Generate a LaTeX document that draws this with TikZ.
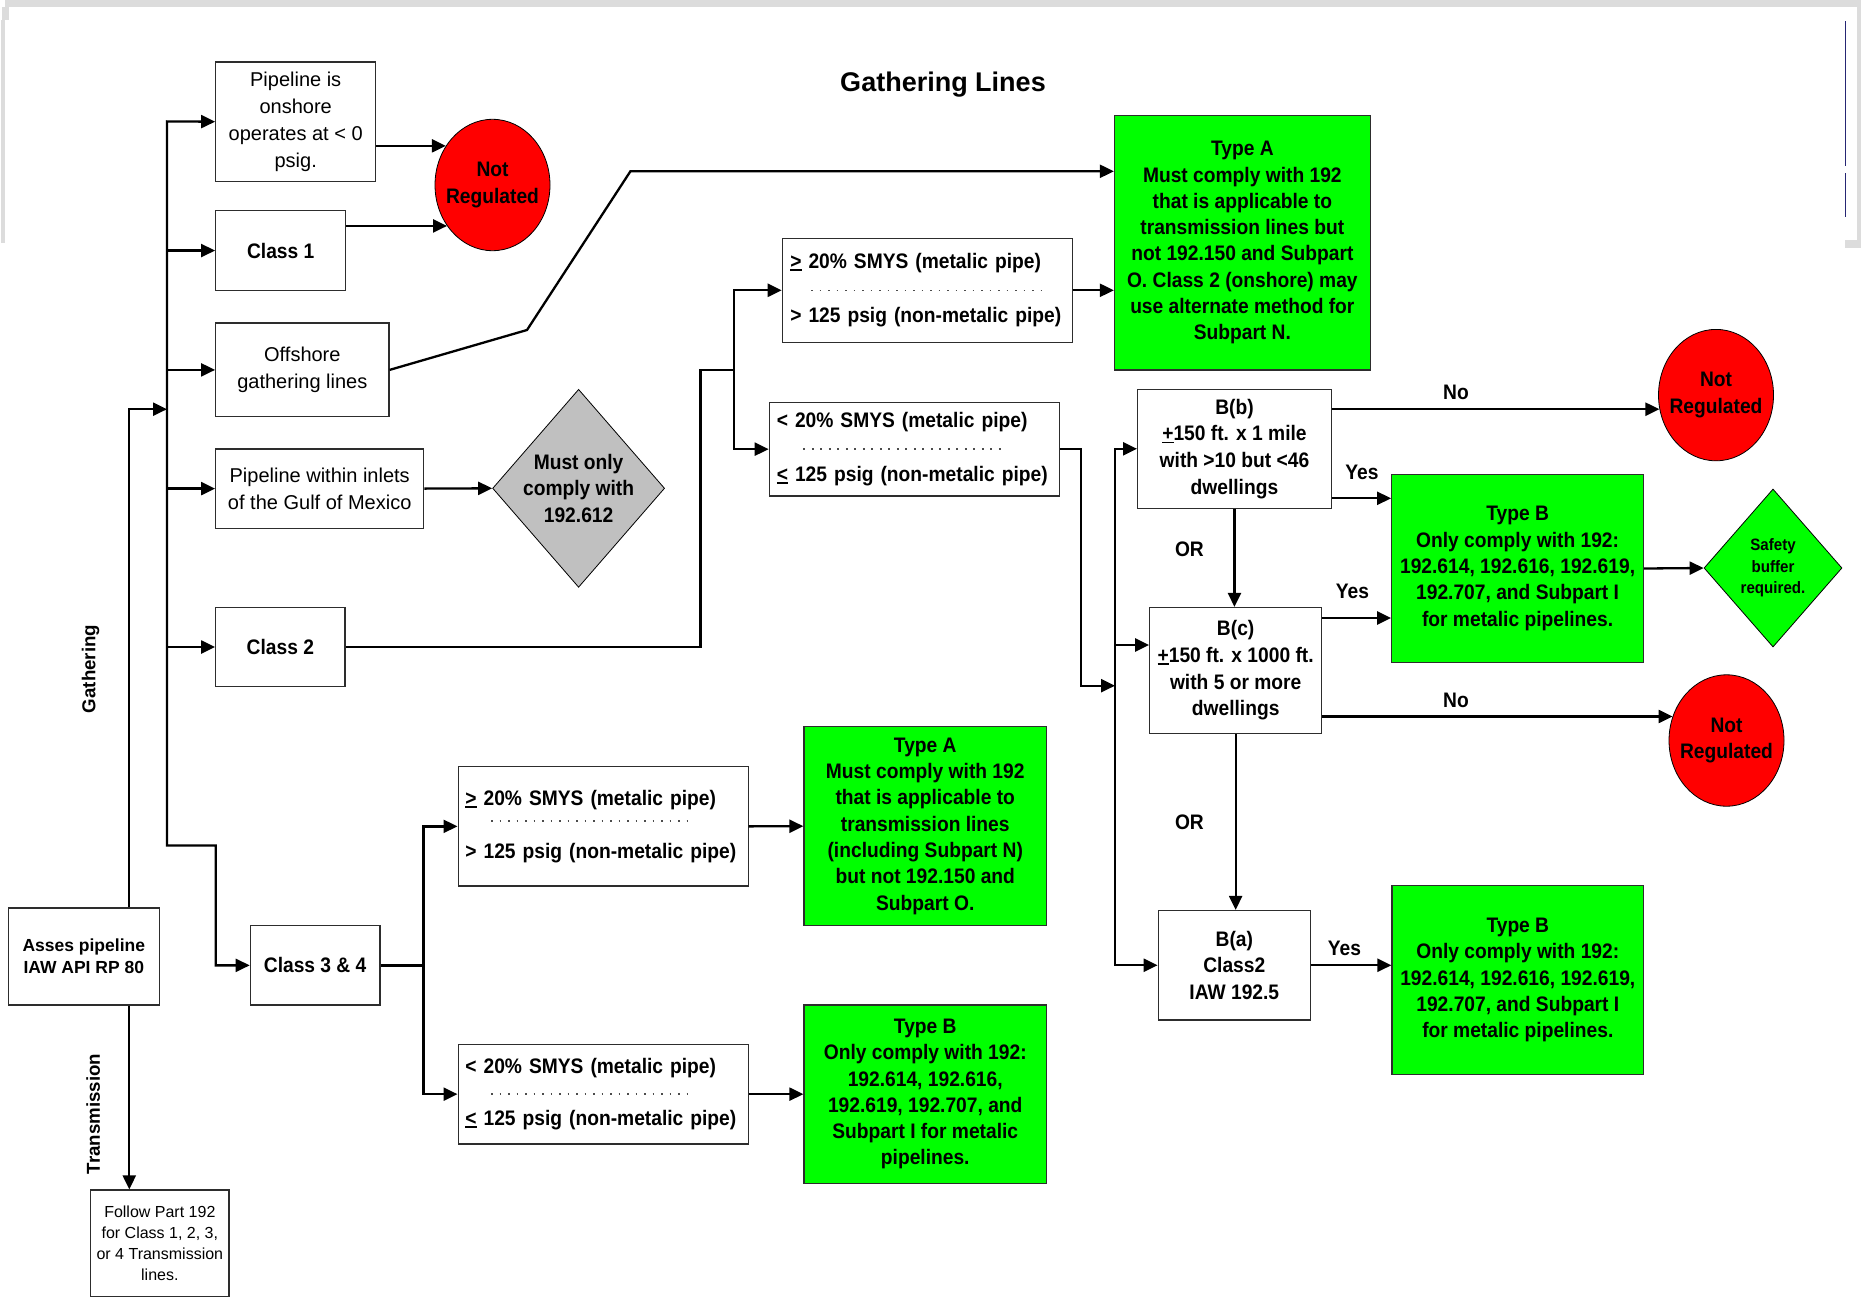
\documentclass[tikz,border=0pt]{standalone}
\usepackage{fontspec}
\setmainfont{Liberation Sans}
\newfontfamily\condensed{Liberation Sans}[FakeStretch=0.915]
\usetikzlibrary{shapes.geometric,arrows.meta}

\definecolor{grn}{RGB}{0,255,0}
\definecolor{rd}{RGB}{255,0,0}
\definecolor{dgray}{RGB}{192,192,192}
\definecolor{edge}{RGB}{45,45,45}
\definecolor{framegray}{RGB}{220,220,220}
\definecolor{navyline}{RGB}{38,38,115}

\newcommand\setfs[2]{\fontsize{#1}{#2}\selectfont}
% underlined sign (used for >=, <= and +/-)
\newsavebox\ulbox
\newcommand\ulmark[1]{\leavevmode\sbox\ulbox{#1}\rlap{\rule[-2.6pt]{\wd\ulbox}{1.8pt}}\usebox\ulbox}

\begin{document}
\begin{tikzpicture}[x=1pt,y=-1pt,
  box/.style={draw=edge, line width=1.2pt, fill=white, inner sep=0pt, align=center},
  plain/.style={font=\setfs{20}{26.8}},
  heavy/.style={font=\condensed\bfseries\setfs{21}{26.3}},
  greenbox/.style={box, fill=grn, heavy},
  smys/.style={box, heavy, align=left, text width=274, inner xsep=8, minimum width=290},
  notreg/.style={ellipse, draw=black, line width=0.8pt, fill=rd, inner sep=0pt,
     minimum width=115, minimum height=131.4,
     label={[heavy, align=center]center:Not\\Regulated}},
  conn/.style={line width=2.3pt, black},
  arr/.style={conn, -{Triangle[length=14pt,width=13pt]}},
  biarr/.style={conn, {Triangle[length=14pt,width=13pt]}-{Triangle[length=14pt,width=13pt]}},
  dots/.style={draw=black!70, line width=1.4pt, dash pattern=on 1.6pt off 6.9pt},
  tag/.style={heavy}
]
\fill[white] (0,0) rectangle (1865,1304);
\useasboundingbox (0,0) rectangle (1865,1304);

% page frame remains
\fill[framegray] (5,0) rectangle (1861,7);
\fill[framegray] (1.7,7) rectangle (9,20);
\fill[framegray] (1,20) rectangle (5,243);
\fill[framegray] (1857,7) rectangle (1861,243);
\fill[framegray] (1845,240) rectangle (1861,248);
\draw[navyline, line width=1pt] (1845.3,21) -- (1845.3,166);
\draw[navyline, line width=1pt] (1845.3,173) -- (1845.3,217);

% title
\node[font=\bfseries\setfs{27}{32}] (title) at (943,85) {Gathering Lines};

% left column
\node[box, font=\bfseries\setfs{17.5}{22.3}, minimum width=151, minimum height=97] (asses) at (83.8,956.5) {Asses pipeline\\IAW API RP 80};
\node[box, font=\setfs{16}{21}, minimum width=138.3, minimum height=106.7] (follow) at (159.85,1243.35) {Follow Part 192\\for Class 1, 2, 3,\\or 4 Transmission\\lines.};
\node[rotate=90, font=\bfseries\setfs{18.7}{22}] (lgath) at (90.5,669) {Gathering};
\node[rotate=90, font=\bfseries\setfs{18.7}{22}] (ltrans) at (93.3,1114) {Transmission};

\node[box, plain, minimum width=160, minimum height=119.4] (pipe) at (295.7,121.7) {Pipeline is\\onshore\\operates at < 0\\psig.};
\node[box, heavy, minimum width=130, minimum height=79.7] (class1) at (280.7,250.55) {Class 1};
\node[box, plain, font=\setfs{20}{26.2}, minimum width=173.3, minimum height=93.8] (offshore) at (302.35,369.9) {Offshore\\gathering lines};
\node[box, plain, font=\setfs{20}{27}, minimum width=208, minimum height=79.2] (gulf) at (319.7,488.6) {Pipeline within inlets\\of the Gulf of Mexico};
\node[box, heavy, minimum width=129.3, minimum height=78.5] (class2) at (280.35,647) {Class 2};
\node[box, heavy, minimum width=129.7, minimum height=79.3] (class34) at (315.15,965.35) {Class 3 \& 4};

\node[notreg] (nr1) at (492.5,185) {};
\node[diamond, draw=black, line width=0.8pt, fill=dgray, inner sep=0pt, minimum width=172, minimum height=198,
  label={[heavy, font=\condensed\bfseries\setfs{21}{26.8}, align=center]center:Must only\\comply with\\192.612}] (must) at (578.6,488.3) {};

% class 2 branch
\node[smys, minimum height=104] (smysA) at (927.3,290.3) {\ulmark{>} 20\% SMYS (metalic pipe)\\[27.7pt]> 125 psig (non-metalic pipe)};
\node[smys, inner xsep=7.5, text width=275, minimum height=93.7] (smysB) at (914.3,449.15) {< 20\% SMYS (metalic pipe)\\[27pt]\ulmark{<} 125 psig (non-metalic pipe)};
\draw[dots] ([xshift=29.4]smysA.west) -- ([xshift=264.4]smysA.west);
\draw[dots] ([xshift=34.7]smysB.west) -- ([xshift=237.4]smysB.west);

\node[greenbox, minimum width=255.7, minimum height=254.6] (typeA1) at (1242.35,242.7) {Type A\\Must comply with 192\\that is applicable to\\transmission lines but\\not 192.150 and Subpart\\O. Class 2 (onshore) may\\use alternate method for\\Subpart N.};

\node[box, heavy, font=\condensed\bfseries\setfs{21}{26.7}, minimum width=193.7, minimum height=119] (bb) at (1234.45,448.8) {B(b)\\\ulmark{+}150 ft. x 1 mile\\with >10 but <46\\dwellings};
\node[box, heavy, font=\condensed\bfseries\setfs{21}{26.7}, minimum width=171.9, minimum height=126.1] (bc) at (1235.65,670.55) {B(c)\\\ulmark{+}150 ft. x 1000 ft.\\with 5 or more\\dwellings};
\node[box, heavy, minimum width=152.2, minimum height=109.5] (ba) at (1234.3,965.25) {B(a)\\Class2\\IAW 192.5};

\node[greenbox, minimum width=251.8, minimum height=188.4] (typeB1) at (1517.6,568.5) {Type B\\Only comply with 192:\\192.614, 192.616, 192.619,\\192.707, and Subpart I\\for metalic pipelines.};
\node[greenbox, minimum width=251.6, minimum height=188.6] (typeB2) at (1517.8,980) {Type B\\Only comply with 192:\\192.614, 192.616, 192.619,\\192.707, and Subpart I\\for metalic pipelines.};

\node[notreg] (nr2) at (1716,395.1) {};
\node[notreg] (nr3) at (1726.5,740.5) {};
\node[diamond, draw=black, line width=0.8pt, fill=grn, inner sep=0pt, minimum width=138, minimum height=158,
  label={[font=\condensed\bfseries\setfs{16.5}{21.3}, align=center]center:Safety\\buffer\\required.}] (safety) at (1773,568) {};

% class 3 & 4 branch
\node[smys, inner xsep=7, text width=275.4, minimum height=119.3] (smysC) at (603.1,826.35) {\ulmark{>} 20\% SMYS (metalic pipe)\\[26.4pt]> 125 psig (non-metalic pipe)};
\node[smys, inner xsep=7, text width=275.4, minimum height=99.7] (smysD) at (603.1,1094.15) {< 20\% SMYS (metalic pipe)\\[25.4pt]\ulmark{<} 125 psig (non-metalic pipe)};
\draw[dots] ([xshift=33.6,yshift=5.35]smysC.west) -- ([xshift=235.6,yshift=5.35]smysC.west);
\draw[dots] ([xshift=33.6]smysD.west) -- ([xshift=235.6]smysD.west);

\node[greenbox, minimum width=242.5, minimum height=199] (typeA2) at (925.25,826.2) {Type A\\Must comply with 192\\that is applicable to\\transmission lines\\(including Subpart N)\\but not 192.150 and\\Subpart O.};
\node[greenbox, minimum width=242.5, minimum height=178.3] (typeB3) at (925.25,1094.15) {Type B\\Only comply with 192:\\192.614, 192.616,\\192.619, 192.707, and\\Subpart I for metalic\\pipelines.};

% branch labels
\node[tag] (no1) at (1456,392.5) {No};
\node[tag] (yes1) at (1362,472) {Yes};
\node[tag] (or1) at (1189.4,549.5) {OR};
\node[tag] (yes2) at (1352.4,591.1) {Yes};
\node[tag] (no2) at (1456,700.6) {No};
\node[tag] (or2) at (1189.4,821.9) {OR};
\node[tag] (yes3) at (1344.5,948.5) {Yes};

% connector junction points
\coordinate (gx) at (129.3,409.2);
\coordinate (tTop) at (167,121.4);
\coordinate (tBot) at (167,845.5);
\coordinate (jog) at (215.7,845.5);
\coordinate (offB) at (527,330);
\coordinate (offA) at (630.4,171.3);
\coordinate (c2a) at (700.6,647);
\coordinate (c2b) at (700.6,370);
\coordinate (c2v) at (733.9,370);
\coordinate (c34v) at (423.4,965.35);
\coordinate (sbx) at (1081,449.15);
\coordinate (sby) at (1081,685.7);
\coordinate (rx) at (1115,685.7);
\coordinate (bcin) at (1115,645);
\coordinate (yb1) at (0,498.3);
\coordinate (yb2) at (0,618);

% gathering / transmission split
\draw[arr] (asses.north -| gx) -- (gx) -- (gx -| tTop);
\draw[arr] (asses.south -| gx) -- (follow.north -| gx);

% gathering trunk
\draw[biarr] (pipe.west) -- (tTop) -- (tBot) -- (jog) |- (class34.west);
\draw[arr] (class1.west -| tTop) -- (class1.west);
\draw[arr] (offshore.west -| tTop) -- (offshore.west);
\draw[arr] (gulf.west -| tTop) -- (gulf.west);
\draw[arr] (class2.west -| tTop) -- (class2.west);

% top branches
\draw[arr] (pipe.east |- nr1.140) -- (nr1.140);
\draw[arr] (class1.east |- nr1.222) -- (nr1.222);
\draw[arr] (offshore.east) -- (offB) -- (offA) -- (offA -| typeA1.west);
\draw[arr] (gulf.east) -- (must.west);

% class 2
\draw[conn] (class2.east) -- (c2a) -- (c2b) -- (c2v);
\draw[biarr] (smysA.west) -- (smysA.west -| c2v) -- (smysB.west -| c2v) -- (smysB.west);
\draw[arr] (smysA.east) -- (smysA.east -| typeA1.west);
\draw[arr] (smysB.east) -- (sbx) -- (sby) -- (rx);

% B(a)/B(b)/B(c) tests
\draw[biarr] (bb.west) -- (bb.west -| rx) -- (ba.west -| rx) -- (ba.west);
\draw[arr] (bcin) -- (bcin -| bc.west);
\draw[arr] (bb.south) -- (bb.south |- bc.north);
\draw[arr] (bc.south) -- (bc.south |- ba.north);
\draw[arr] (bb.east |- nr2.194) -- (nr2.194);
\draw[arr] (bb.east |- yb1) -- (typeB1.west |- yb1);
\draw[arr] (bc.east |- yb2) -- (typeB1.west |- yb2);
\draw[arr] (bc.east |- nr3.156) -- (nr3.156);
\draw[arr] (ba.east) -- (ba.east -| typeB2.west);
\draw[arr] (typeB1.east) -- (safety.west);

% class 3 & 4
\draw[conn] (class34.east) -- (c34v);
\draw[biarr] (smysC.west) -- (smysC.west -| c34v) -- (smysD.west -| c34v) -- (smysD.west);
\draw[arr] (smysC.east) -- (typeA2.west);
\draw[arr] (smysD.east) -- (typeB3.west);
\end{tikzpicture}
\end{document}
